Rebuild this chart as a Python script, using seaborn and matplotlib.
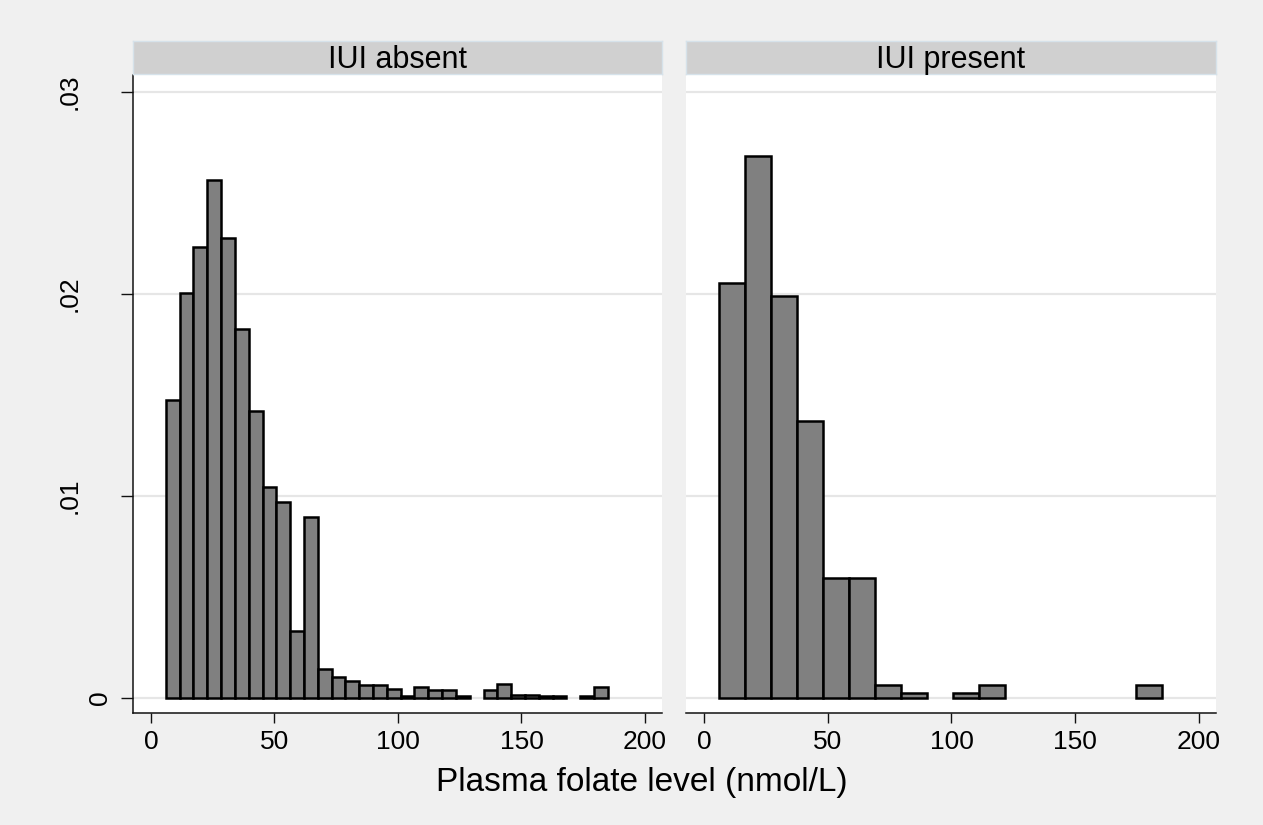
import numpy as np
import pandas as pd
import matplotlib
matplotlib.use("Agg")
import matplotlib.pyplot as plt
import seaborn as sns
from matplotlib.transforms import blended_transform_factory

# ---------------- data ----------------
panels = ["IUI absent", "IUI present"]
data_min = 6.0
data_max = 185.0
absent_density = [0.01475, 0.02004, 0.02234, 0.02566, 0.02276, 0.01829, 0.01419,
                  0.01044, 0.00970, 0.00331, 0.00897, 0.00143, 0.00102, 0.00083,
                  0.00064, 0.00066, 0.00046, 0.00010, 0.00054, 0.00038, 0.00038,
                  0.00010, 0.0, 0.00038, 0.00068, 0.00015, 0.00015, 0.00010,
                  0.00010, 0.0, 0.00010, 0.00054]
present_density = [0.02055, 0.02681, 0.01992, 0.01371, 0.00593, 0.00593, 0.00064,
                   0.00026, 0.0, 0.00026, 0.00064, 0.0, 0.0, 0.0, 0.0, 0.0, 0.00064]
y_ticks = [0, 0.01, 0.02, 0.03]
y_tick_labels = ["0", ".01", ".02", ".03"]
x_ticks = [0, 50, 100, 150, 200]
x_label = "Plasma folate level (nmol/L)"

# ---------------- style ----------------
sns.set_theme(style="white")
plt.rcParams["font.family"] = ["Liberation Sans", "DejaVu Sans"]
plt.rcParams["text.color"] = "black"
plt.rcParams["xtick.color"] = "black"
plt.rcParams["ytick.color"] = "black"

W, H = 1263, 825
BG = "#F0F0F0"
fig = plt.figure(figsize=(W / 100, H / 100), dpi=100, facecolor=BG)


def box(x0, y0, x1, y1):
    return [x0 / W, 1 - y1 / H, (x1 - x0) / W, (y1 - y0) / H]


axes_boxes = [(133, 75, 661.7, 713), (686, 75, 1215.7, 713)]
strip_boxes = [(133, 41, 661.7, 74), (686, 41, 1215.7, 74)]
densities = [absent_density, present_density]

for i, (name, dens) in enumerate(zip(panels, densities)):
    ax = fig.add_axes(box(*axes_boxes[i]))
    ax.set_facecolor("white")
    edges = np.linspace(data_min, data_max, len(dens) + 1)
    centers = (edges[:-1] + edges[1:]) / 2
    df = pd.DataFrame({"folate": centers, "density": dens})
    sns.histplot(data=df, x="folate", weights="density", bins=[float(e) for e in edges],
                 stat="count", color="#808080", edgecolor="black", linewidth=1.8,
                 alpha=1, ax=ax)
    for p in ax.patches:
        if p.get_height() <= 0:
            p.set_visible(False)
    ax.set_xlim(-7.3, 206.8)
    ax.set_ylim(-15 / 20200, 623 / 20200)
    ax.set_xticks(x_ticks)
    ax.set_xticklabels([str(t) for t in x_ticks])
    ax.set_yticks(y_ticks)
    ax.set_xlabel("")
    ax.set_ylabel("")
    ax.yaxis.grid(True, color="#E6E6E6", lw=1.6)
    ax.xaxis.grid(False)
    ax.set_axisbelow(True)
    for s in ["top", "right"]:
        ax.spines[s].set_visible(False)
    ax.spines["bottom"].set_color("#111111")
    ax.spines["bottom"].set_linewidth(1.1)
    ax.tick_params(axis="x", direction="out", length=7.5, width=1.0,
                   color="#111111", labelcolor="black", labelsize=19, pad=4.5,
                   bottom=True)
    if i == 0:
        ax.spines["left"].set_color("#111111")
        ax.spines["left"].set_linewidth(1.1)
        ax.tick_params(axis="y", direction="out", length=8.5, width=1.0,
                       color="#111111", left=True, labelleft=False)
        tr = blended_transform_factory(fig.transFigure, ax.transData)
        for t, lab in zip(y_ticks, y_tick_labels):
            xc = 100 if lab == "0" else 70
            ax.text(xc / W, t, lab, rotation=90, ha="center", va="center",
                    fontsize=19, color="black", transform=tr, clip_on=False)
    else:
        ax.spines["left"].set_visible(False)
        ax.tick_params(axis="y", left=False, labelleft=False)

    sax = fig.add_axes(box(*strip_boxes[i]))
    sax.set_facecolor("#D0D0D0")
    sax.set_xticks([])
    sax.set_yticks([])
    for s in sax.spines.values():
        s.set_color("#D6E2EA")
        s.set_linewidth(1.0)
    sax.text(0.5, 0.17, name, ha="center", va="baseline", fontsize=22,
             color="black", transform=sax.transAxes)

fig.text(642 / W, 1 - 790.5 / H, x_label, ha="center", va="baseline", fontsize=24,
         color="black")

fig.savefig("out.png", dpi=100, facecolor=BG)
